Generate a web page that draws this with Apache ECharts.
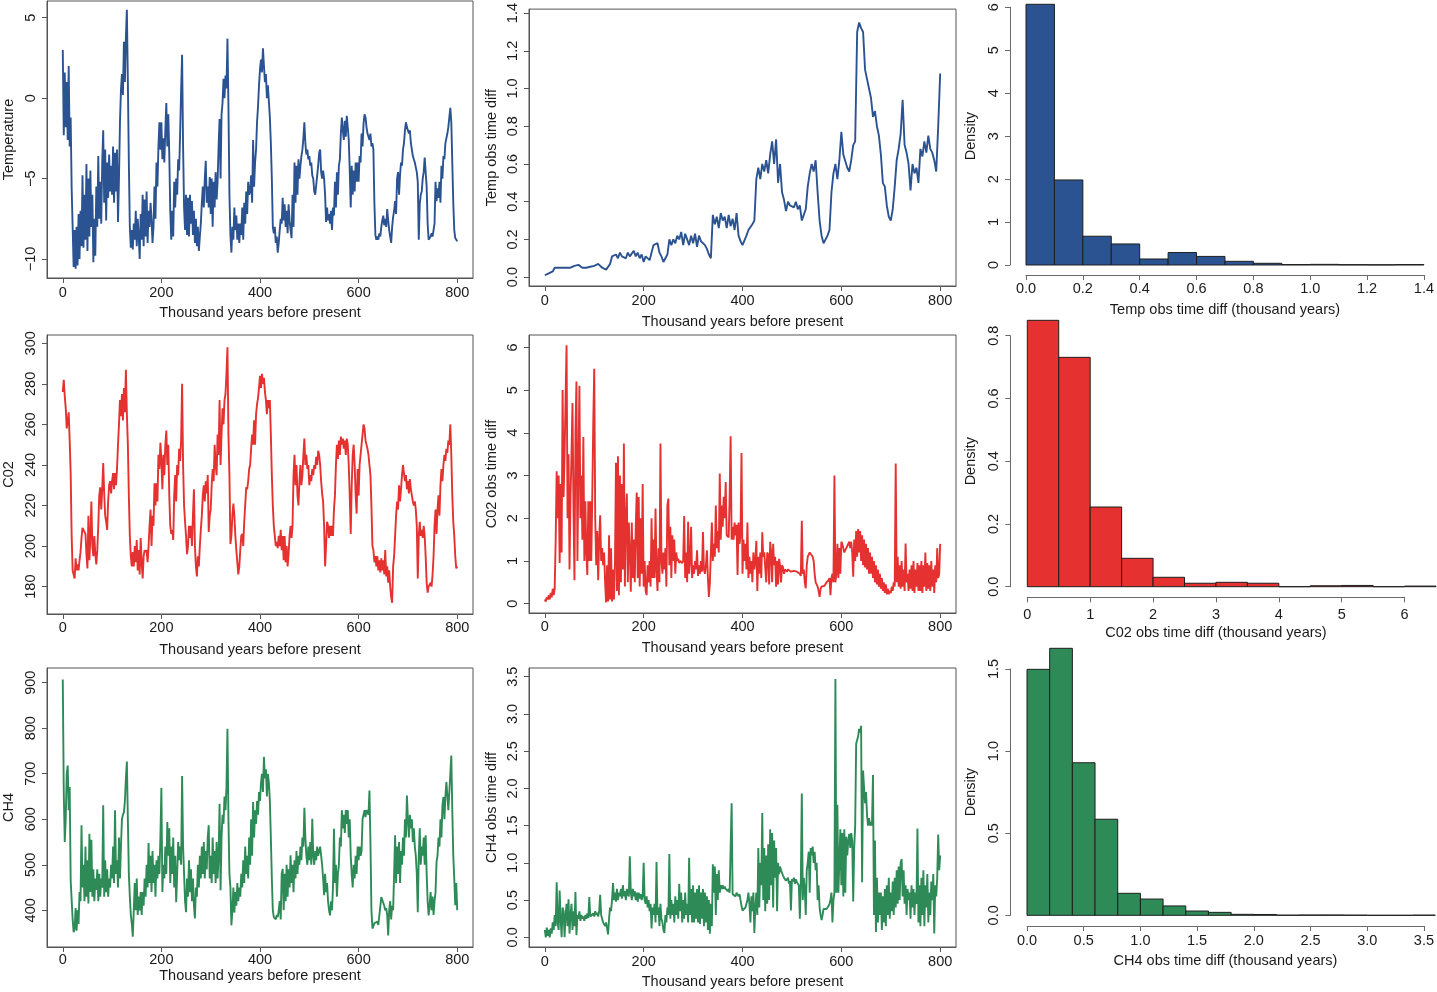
<!DOCTYPE html>
<html><head><meta charset="utf-8">
<script src="https://cdn.jsdelivr.net/npm/echarts@6/dist/echarts.min.js"></script>
<style>html,body{margin:0;padding:0;background:#fff}#c{width:1437px;height:992px}</style>
</head><body><div id="c"></div>
<script>
// ---- data ----
const STEP = 2;      // kyr between samples of the 2-kyr series
const STEP_TD = 4;   // kyr between samples of the temp time-diff series
const xTicks = [0, 200, 400, 600, 800];

const tempVals = [
3.0,-2.3,1.6,-1.8,1.0,-2.6,2.0,-3.0,-1.2,-5.6,
-8.0,-10.5,-8.2,-10.6,-8.0,-10.4,-7.2,-10.0,-7.0,-9.2,
-4.8,-9.3,-6.0,-8.8,-4.1,-9.5,-5.0,-8.6,-4.5,-8.0,
-6.0,-10.2,-7.5,-9.8,-5.5,-8.0,-3.6,-7.5,-5.2,-7.8,
-4.0,-2.0,-6.5,-3.2,-7.6,-4.0,-6.2,-3.5,-5.8,-4.2,
-6.0,-3.0,-6.5,-3.4,-5.8,-3.2,-7.7,-5.0,-1.5,0.5,
1.5,0.2,3.5,1.0,3.8,5.5,1.0,-4.0,-8.0,-9.3,
-8.2,-9.4,-7.8,-8.8,-7.0,-9.2,-7.5,-8.6,-10.0,-7.2,
-8.8,-6.0,-9.2,-6.3,-8.6,-5.8,-9.0,-7.0,-8.0,-6.5,
-7.5,-9.0,-8.0,-5.5,-7.5,-4.0,-5.5,-3.0,-1.5,-3.2,
-1.5,-3.8,-2.5,-4.0,-2.0,-0.3,-3.0,-1.0,-3.5,-7.0,
-8.8,-7.0,-8.6,-5.2,-6.8,-5.0,-6.0,-3.8,-4.5,-2.2,
0.5,2.7,-3.0,-6.8,-8.2,-6.0,-8.5,-6.2,-8.6,-6.0,
-7.8,-6.4,-8.5,-7.0,-9.0,-7.5,-9.2,-8.0,-9.5,-8.6,
-7.8,-6.5,-5.5,-6.8,-5.0,-3.9,-6.5,-5.5,-6.8,-4.9,
-7.2,-5.0,-8.0,-5.2,-6.8,-4.6,-6.3,-5.2,-3.0,-1.3,
-5.0,-1.0,-0.3,1.2,0.0,1.4,0.6,3.7,-0.5,-6.0,
-8.5,-9.6,-8.0,-8.8,-6.8,-8.2,-7.3,-8.8,-7.8,-9.0,
-7.8,-8.5,-6.8,-8.8,-6.5,-7.8,-5.8,-7.2,-5.2,-6.0,
-5.8,-4.8,-6.5,-2.6,-5.5,-4.0,-3.2,-1.5,-0.5,0.8,
1.8,2.4,1.6,3.1,2.0,1.0,1.5,0.0,0.8,-0.2,
-1.2,-2.8,-5.0,-8.0,-8.4,-8.0,-9.0,-8.6,-9.6,-9.0,
-8.2,-7.5,-7.8,-6.2,-7.6,-6.6,-8.0,-7.0,-8.4,-6.6,
-7.6,-8.2,-8.7,-6.0,-8.0,-4.0,-6.5,-4.2,-6.0,-3.8,
-5.0,-4.2,-3.6,-3.2,-2.5,-1.5,-2.8,-3.5,-3.2,-3.8,
-3.6,-4.2,-4.0,-4.8,-5.0,-5.8,-6.0,-5.4,-4.8,-4.2,
-3.4,-3.2,-4.6,-5.0,-4.5,-5.0,-6.0,-7.7,-6.8,-7.6,
-7.2,-7.8,-7.0,-8.2,-6.8,-7.3,-5.2,-6.8,-4.6,-6.0,
-4.2,-3.8,-2.2,-1.2,-2.0,-2.6,-1.4,-2.4,-1.1,-1.8,
-2.6,-4.5,-6.8,-4.2,-6.0,-4.5,-5.8,-4.0,-5.2,-4.0,
-5.2,-3.6,-4.0,-2.2,-3.0,-1.6,-1.0,-1.2,-1.8,-2.2,
-2.4,-2.6,-2.2,-3.0,-2.8,-3.2,-6.5,-8.5,-8.8,-8.6,
-8.8,-8.4,-8.6,-8.0,-7.6,-7.3,-7.9,-7.5,-8.0,-6.9,
-7.6,-8.2,-8.6,-9.0,-8.0,-7.4,-7.0,-6.4,-7.2,-5.0,
-4.6,-6.0,-4.8,-4.0,-4.2,-3.2,-2.8,-2.0,-1.5,-1.8,
-1.8,-2.2,-2.0,-2.8,-3.2,-3.6,-3.6,-4.0,-4.3,-4.6,
-5.2,-8.8,-6.6,-6.0,-5.8,-5.0,-4.6,-3.7,-3.8,-5.5,
-7.8,-8.8,-8.9,-8.6,-8.4,-8.6,-8.2,-7.8,-5.2,-6.4,
-5.6,-6.2,-5.2,-6.5,-4.2,-5.0,-3.6,-3.8,-2.8,-2.5,
-2.2,-1.8,-1.2,-0.6,-1.5,-4.0,-6.5,-8.2,-8.7,-8.8,
-8.9];

const tempDiffVals = [
0.01,0.02,0.02,0.03,0.03,0.05,0.05,0.05,0.05,0.05,
0.05,0.05,0.05,0.05,0.05,0.06,0.06,0.065,0.06,0.05,
0.055,0.05,0.06,0.055,0.06,0.06,0.065,0.07,0.06,0.05,
0.045,0.04,0.035,0.07,0.11,0.1,0.12,0.1,0.13,0.11,
0.12,0.1,0.13,0.11,0.12,0.14,0.11,0.13,0.1,0.12,
0.08,0.11,0.1,0.09,0.13,0.17,0.16,0.18,0.13,0.11,
0.08,0.07,0.12,0.2,0.17,0.2,0.18,0.22,0.2,0.24,
0.17,0.23,0.2,0.17,0.22,0.18,0.23,0.16,0.22,0.19,
0.2,0.17,0.15,0.12,0.1,0.33,0.28,0.32,0.26,0.34,
0.3,0.32,0.26,0.33,0.27,0.31,0.25,0.34,0.22,0.19,
0.17,0.18,0.22,0.25,0.24,0.28,0.3,0.52,0.58,0.52,
0.6,0.56,0.62,0.55,0.65,0.72,0.6,0.73,0.5,0.6,
0.45,0.41,0.35,0.4,0.38,0.39,0.37,0.4,0.36,0.38,
0.3,0.33,0.36,0.48,0.55,0.6,0.56,0.62,0.45,0.3,
0.22,0.18,0.19,0.22,0.25,0.45,0.55,0.6,0.52,0.62,
0.77,0.65,0.66,0.58,0.56,0.62,0.7,0.72,1.3,1.35,
1.32,1.3,1.1,1.05,1.0,0.95,0.85,0.88,0.8,0.75,
0.65,0.5,0.48,0.38,0.32,0.3,0.36,0.48,0.62,0.68,
0.76,0.94,0.7,0.66,0.6,0.46,0.6,0.55,0.58,0.5,
0.68,0.64,0.72,0.66,0.75,0.68,0.66,0.62,0.56,0.8,
1.08];

const co2Vals = [
276,282,274,268,258,262,266,252,236,205,
188,186,184,194,188,191,188,193,197,204,
209,209,209,206,196,189,215,193,205,222,
200,195,205,196,191,198,210,225,229,218,
228,241,226,215,212,208,222,230,232,226,
232,236,228,236,230,238,250,260,272,264,
275,262,278,266,287,265,250,225,205,195,
190,197,190,200,192,203,188,198,186,204,
192,184,195,198,197,198,192,200,210,218,
200,215,210,231,220,231,222,245,238,251,
242,228,245,235,250,257,240,250,225,210,
206,208,203,225,235,222,240,235,248,242,
252,280,240,220,212,205,196,200,210,204,
210,200,215,228,200,190,185,195,190,200,
208,215,225,230,222,232,226,235,207,215,
218,230,238,232,250,240,235,255,245,272,
240,255,268,260,272,275,285,298,255,235,
201,205,215,221,215,205,198,192,186,190,
198,205,206,200,212,220,229,228,232,238,
240,248,255,250,262,250,265,270,273,278,
284,278,285,280,283,276,272,265,272,268,
272,255,235,220,210,205,200,202,199,205,
200,208,198,205,193,205,192,200,190,196,
205,210,204,210,235,245,230,240,225,220,
232,240,230,235,245,253,240,245,238,240,
230,235,232,238,235,240,238,244,240,247,
245,240,232,226,222,210,190,200,212,210,
204,210,205,210,205,218,225,240,250,243,
252,245,254,250,253,248,252,245,253,250,
240,225,206,230,245,250,240,225,216,238,
225,240,245,250,255,260,258,252,252,248,
245,240,235,220,200,198,192,195,190,195,
188,193,187,194,188,193,186,198,185,190,
182,188,180,175,172,190,195,205,215,222,
218,230,222,228,235,240,236,232,235,228,
232,226,233,228,225,222,220,222,218,210,
184,205,212,205,208,204,210,205,195,182,
177,180,180,182,180,186,195,210,218,206,
218,225,215,230,238,232,240,245,242,248,
246,252,250,260,245,225,212,205,195,189,
190];

const co2DiffVals = [
0.1,0.05,0.15,0.1,0.2,0.1,0.25,0.15,0.35,0.2,
0.35,1.5,3.1,2.0,3.0,0.95,2.8,1.2,5.0,2.5,
3.5,4.8,6.05,2.0,3.5,0.8,2.5,3.5,4.7,2.2,
0.55,4.0,5.2,1.0,3.2,5.1,2.0,3.0,1.5,3.9,
1.0,2.4,1.2,0.67,2.4,1.0,2.4,1.0,2.5,4.2,
5.5,2.0,0.9,1.7,0.55,1.5,2.07,1.0,1.3,0.9,
1.2,0.5,0.03,0.9,0.05,1.6,0.1,1.3,0.05,0.8,
0.1,1.0,3.3,0.3,3.45,0.2,3.0,0.5,2.8,0.8,
3.75,0.4,2.0,2.58,0.5,1.9,1.2,0.28,1.9,0.6,
1.5,0.5,1.8,2.6,0.6,2.5,0.4,2.0,0.7,2.8,
0.4,1.0,0.3,0.2,0.9,0.5,1.0,0.4,2.0,0.6,
1.5,0.6,2.23,0.8,0.3,1.3,0.5,3.75,1.0,0.7,
1.2,0.8,1.3,0.4,2.3,2.46,0.9,1.8,0.6,1.6,
1.0,1.5,0.7,1.2,1.0,1.05,0.95,1.0,1.0,0.95,
1.0,2.05,0.6,1.2,0.5,1.92,0.7,1.0,1.8,0.6,
0.9,0.7,1.0,0.8,1.25,0.65,0.9,0.7,1.0,0.75,
1.68,0.8,0.7,0.9,1.25,0.6,0.16,0.5,1.2,1.9,
1.0,1.4,1.1,2.3,1.3,1.7,1.2,3.05,1.5,2.3,
1.8,2.5,2.0,2.85,1.6,1.6,1.55,2.5,3.92,1.5,
1.8,1.5,1.9,1.6,1.85,0.67,1.9,1.4,1.6,3.53,
0.7,1.5,1.0,1.4,0.8,1.9,0.6,1.1,0.7,1.0,
0.5,1.2,0.8,1.0,1.47,0.3,1.1,0.7,1.2,0.6,
1.67,1.1,1.2,1.2,0.5,1.2,1.15,0.45,1.45,1.2,
0.5,1.4,0.9,1.1,0.4,1.0,0.45,1.05,0.9,0.5,
0.9,0.85,0.7,0.8,0.78,0.75,0.8,0.76,0.78,0.75,
0.78,0.75,0.77,0.74,0.76,0.75,0.73,0.74,0.7,0.65,
1.94,0.7,0.8,0.5,0.36,0.9,1.1,1.15,1.2,1.18,
1.2,1.1,1.0,0.7,0.5,0.45,0.4,0.3,0.16,0.35,
0.4,0.38,0.4,0.42,0.45,0.5,0.52,0.55,0.6,0.2,
0.6,0.7,0.5,3.0,0.5,0.7,1.4,0.6,1.3,0.7,
1.45,1.4,1.3,1.2,1.2,1.3,1.35,1.4,1.45,1.3,
1.45,1.2,0.63,1.5,1.0,1.7,1.1,1.75,1.2,1.7,
1.0,1.6,0.9,1.5,0.85,1.4,0.8,1.3,0.7,1.2,
0.7,1.1,0.6,1.0,0.5,0.9,0.45,0.8,0.4,0.7,
0.35,0.6,0.3,0.5,0.25,0.45,0.22,0.35,0.22,0.3,
0.25,0.4,0.3,0.5,0.4,3.28,0.5,1.1,0.4,0.9,
0.35,1.0,0.4,0.8,0.3,1.41,0.5,0.7,0.3,0.8,
0.35,0.9,0.3,1.0,0.25,0.8,0.4,0.95,0.3,0.9,
0.3,1.0,0.25,0.9,0.4,1.2,0.3,0.95,0.35,0.9,
0.3,1.0,0.4,0.8,0.25,0.9,0.5,1.3,0.6,0.7,
1.4];

const ch4Vals = [
907,660,550,600,700,718,620,671,466,470,
380,352,360,405,355,400,370,440,420,587,
450,500,420,540,430,510,415,568,440,555,
430,490,420,470,445,490,420,480,430,470,
450,631,430,510,440,490,430,470,450,500,
470,540,460,620,480,510,450,560,470,540,
600,610,615,640,690,727,600,480,430,390,
370,342,400,460,400,470,390,430,400,440,
390,440,410,470,430,500,450,548,460,520,
440,530,460,500,430,510,470,520,480,560,
669,440,500,470,540,480,594,520,580,460,
540,480,560,450,520,418,480,550,510,540,
500,695,540,480,420,396,470,430,510,440,
490,420,470,410,382,450,430,500,450,520,
470,540,480,550,470,530,490,560,587,470,
520,460,560,480,530,460,550,470,520,634,
444,560,610,590,650,620,670,799,600,480,
450,367,400,450,395,440,410,460,420,450,
430,480,450,510,460,540,480,520,470,560,
500,600,520,638,560,620,590,640,610,660,
640,680,700,660,737,690,710,650,700,680,
640,560,470,400,385,389,380,390,385,400,
420,380,480,491,400,480,420,500,430,490,
450,521,460,500,440,510,470,530,480,520,
500,540,510,560,540,625,560,520,500,540,
510,550,500,601,520,500,530,510,540,520,
530,540,520,500,470,433,480,440,460,420,
400,389,420,400,450,579,460,500,430,480,
500,560,540,620,580,610,570,620,590,620,
560,600,520,480,450,500,470,520,480,540,
510,540,520,530,600,610,620,605,620,615,
610,663,550,400,360,365,372,368,370,375,
368,372,370,429,425,430,410,400,405,390,
345,400,420,380,410,400,480,565,460,540,
480,550,460,530,500,560,520,600,560,652,
600,560,610,580,600,550,580,540,520,480,
396,520,580,500,540,520,560,500,565,480,
420,389,410,440,400,430,390,420,440,506,
520,560,540,600,560,630,649,600,650,682,
680,620,660,700,740,620,520,470,411,460,
400];

const ch4DiffVals = [
0.1,0.0,0.13,0.02,0.1,0.0,0.12,0.05,0.2,0.1,
0.3,0.15,0.74,0.2,0.1,0.63,0.25,0.0,0.4,0.35,
0.0,0.3,0.45,0.15,0.51,0.05,0.3,0.45,0.1,0.35,
0.15,0.61,0.03,0.3,0.25,0.35,0.22,0.3,0.25,0.28,
0.22,0.3,0.25,0.32,0.26,0.54,0.28,0.3,0.26,0.32,
0.28,0.35,0.3,0.33,0.28,0.35,0.57,0.3,0.25,0.2,
0.18,0.15,0.2,0.12,0.04,0.25,0.4,0.35,0.5,0.73,
0.5,0.6,0.48,0.65,0.5,0.6,0.55,0.65,0.52,0.7,
0.55,0.62,0.5,0.65,0.58,0.55,1.09,0.6,0.5,0.65,
0.55,0.62,0.5,0.6,0.48,0.6,0.52,0.58,0.5,0.55,
1.0,0.5,0.45,0.55,0.4,0.5,0.35,0.45,0.12,0.4,
0.3,0.45,0.2,1.01,0.3,0.4,0.15,0.45,0.25,0.2,
0.1,0.06,0.3,0.2,0.4,0.3,1.12,0.25,0.5,0.3,
0.45,0.2,0.55,0.3,0.5,0.25,0.72,0.35,0.6,0.2,
0.5,0.25,0.6,0.3,0.45,0.2,1.07,0.3,0.65,0.2,
0.7,0.2,0.6,0.25,0.65,0.2,0.7,0.18,0.6,0.25,
0.65,0.15,0.6,0.2,0.55,0.1,0.5,0.05,0.45,0.15,
0.98,0.6,0.95,0.3,0.85,0.5,0.9,0.6,0.7,0.65,
0.7,0.65,0.68,0.65,0.66,0.62,0.65,0.6,0.62,1.8,
0.58,0.6,0.58,0.55,0.6,0.62,0.55,0.58,0.5,0.42,
0.36,0.35,0.38,0.4,0.45,0.5,0.6,0.45,0.2,0.55,
0.35,0.6,0.06,0.4,0.6,0.3,1.2,0.4,1.0,0.7,
1.67,0.5,1.2,0.35,1.1,0.45,1.25,0.5,1.45,0.7,
1.4,0.4,1.3,0.8,1.2,0.35,1.0,0.85,0.95,0.9,
0.88,0.83,0.8,0.78,0.76,0.75,0.8,0.72,0.76,0.36,
0.78,0.75,0.8,0.72,0.78,0.74,0.76,0.7,0.25,0.72,
1.93,0.5,0.8,0.65,0.3,0.9,1.0,1.15,0.6,1.2,
1.1,1.22,1.0,1.15,0.9,1.0,0.5,0.7,0.4,0.3,
0.23,0.3,0.38,0.4,0.4,0.38,0.4,0.42,0.45,0.5,
0.6,0.2,0.5,0.6,3.47,0.6,1.78,0.6,1.0,1.45,
0.7,1.4,0.55,1.45,0.6,1.35,1.1,1.3,1.39,1.2,
1.4,1.3,0.48,1.2,1.5,2.6,2.65,2.7,2.8,2.75,
2.84,0.74,2.24,2.0,1.8,1.95,1.64,1.5,1.6,1.5,
1.55,1.5,2.18,0.3,1.3,0.07,0.8,0.2,0.6,0.3,
0.6,0.1,0.55,0.2,0.65,0.15,0.7,0.3,0.8,0.25,
0.6,0.35,0.75,0.3,0.8,0.4,0.9,0.45,0.95,0.5,
1.0,1.05,0.55,0.9,0.45,0.7,0.3,0.65,0.5,0.6,
0.25,0.7,0.4,0.65,0.3,0.6,0.45,1.46,0.2,0.7,
0.15,0.8,0.3,0.9,0.15,0.7,0.4,0.85,0.2,0.6,
0.3,0.75,0.5,0.85,0.05,0.7,0.55,0.8,1.38,0.9,
1.1];

// histogram bins (breaks) and densities
const tempBreaks = [0,0.1,0.2,0.3,0.4,0.5,0.6,0.7,0.8,0.9,1.0,1.1,1.2,1.3,1.4];
const tempDensity = [6.07,1.98,0.67,0.49,0.14,0.29,0.20,0.086,0.04,0.01,0.015,0.008,0.005,0.01];
const co2Breaks = [0,0.5,1,1.5,2,2.5,3,3.5,4,4.5,5,5.5,6,6.5];
const co2Density = [0.849,0.731,0.254,0.0905,0.030,0.011,0.014,0.011,0,0.003,0.004,0,0.002];
const ch4Breaks = [0,0.2,0.4,0.6,0.8,1.0,1.2,1.4,1.6,1.8,2.0,2.2,2.4,2.6,2.8,3.0,3.2,3.4,3.6];
const ch4Density = [1.498,1.626,0.929,0.585,0.134,0.099,0.057,0.026,0.018,0.006,0.005,0.001,0.002,0.002,0.001,0,0,0.001];

// tick values
const tempYTicks = [-10,-5,0,5];
const tdYTicks = [0,0.2,0.4,0.6,0.8,1.0,1.2,1.4];
const co2YTicks = [180,200,220,240,260,280,300];
const cdYTicks = [0,1,2,3,4,5,6];
const ch4YTicks = [400,500,600,700,800,900];
const hdYTicks = [0,0.5,1.0,1.5,2.0,2.5,3.0,3.5];

// ---- chart ----
const FONT = '"Liberation Sans", Arial, Helvetica, sans-serif';
const TXT = '#1a1a1a';
const FRAME = '#555555';
const HAX = '#6a6a6a';
const BLUE = '#2C5391', RED = '#E5312F', GREEN = '#2E8B57';
const LW = 1.9;
const txt = {fontSize: 14.5, color: TXT, fontFamily: FONT};
const minus = v => String(v).replace('-', '\u2212');
const f1 = v => Number(v).toFixed(1);

const grids = [], xAxes = [], yAxes = [], series = [];

function addTimePanel(o) {
  const gi = grids.length;
  grids.push({left: o.left, top: o.top, width: o.width, height: o.height, show: true,
    borderColor: FRAME, borderWidth: 1, backgroundColor: 'transparent'});
  xAxes.push({gridIndex: gi, type: 'value', min: -32, max: 832, position: 'bottom',
    axisLine: {show: true, onZero: false, lineStyle: {color: FRAME, width: 1}}, splitLine: {show: false},
    axisTick: {show: true, length: 5, lineStyle: {color: FRAME}, customValues: xTicks},
    axisLabel: Object.assign({show: true, customValues: xTicks, margin: o.xMargin}, txt),
    name: 'Thousand years before present', nameLocation: 'middle', nameGap: o.xNameGap, nameTextStyle: txt});
  yAxes.push({gridIndex: gi, type: 'value', min: o.yMin, max: o.yMax, position: 'left',
    axisLine: {show: true, onZero: false, lineStyle: {color: FRAME, width: 1}}, splitLine: {show: false},
    axisTick: {show: true, length: 5, lineStyle: {color: FRAME}, customValues: o.yTicks},
    axisLabel: Object.assign({show: true, customValues: o.yTicks, rotate: 90, margin: 9, formatter: o.yFmt}, txt),
    name: o.yName, nameLocation: 'middle', nameGap: o.yNameGap, nameTextStyle: txt});
  series.push({type: 'line', xAxisIndex: gi, yAxisIndex: gi,
    data: o.vals.map((v, k) => [k * o.step, v]),
    showSymbol: false, symbol: 'none', silent: true, animation: false,
    lineStyle: {color: o.color, width: LW}, itemStyle: {color: o.color}});
}

function addHistPanel(o) {
  const gi = grids.length;
  grids.push({left: o.left, top: o.top, width: o.width, height: o.height, show: false});
  xAxes.push({gridIndex: gi, type: 'value', min: o.xMin, max: o.xMax, interval: o.xInterval, offset: o.xOffset, position: 'bottom',
    axisLine: {show: true, onZero: false, lineStyle: {color: HAX}}, splitLine: {show: false},
    axisTick: {show: true, length: 5, lineStyle: {color: HAX}},
    axisLabel: Object.assign({margin: o.xMargin, formatter: o.xFmt}, txt),
    name: o.xName, nameLocation: 'middle', nameGap: o.xNameGap, nameTextStyle: txt});
  yAxes.push({gridIndex: gi, type: 'value', min: 0, max: o.yMax, interval: o.yInterval, offset: o.yOffset, position: 'left',
    axisLine: {show: true, onZero: false, lineStyle: {color: HAX}}, splitLine: {show: false},
    axisTick: {show: true, length: 5, lineStyle: {color: HAX}},
    axisLabel: Object.assign({rotate: 90, margin: 9, formatter: o.yFmt}, txt),
    name: 'Density', nameLocation: 'middle', nameGap: 32, nameTextStyle: txt});
  const data = o.density.map((d, k) => [o.breaks[k], o.breaks[k + 1], d]);
  series.push({type: 'custom', xAxisIndex: gi, yAxisIndex: gi, data: data, clip: false, silent: true, animation: false,
    encode: {x: [0, 1], y: 2},
    renderItem: function (params, api) {
      const p0 = api.coord([api.value(0), 0]);
      const p1 = api.coord([api.value(1), api.value(2)]);
      return {type: 'rect',
        shape: {x: p0[0], y: p1[1], width: p1[0] - p0[0], height: p0[1] - p1[1]},
        style: {fill: o.color, stroke: '#1e1e1e', lineWidth: 1}};
    }});
}

// Row 1
addTimePanel({left: 45, top: 1, width: 428, height: 277, yMin: -11.18, yMax: 6.04, yTicks: tempYTicks, yFmt: minus,
  yName: 'Temperature', yNameGap: 31, xMargin: 7, xNameGap: 27, vals: tempVals, step: STEP, color: BLUE});
addTimePanel({left: 529, top: 7, width: 427, height: 279, yMin: -0.047, yMax: 1.421, yTicks: tdYTicks, yFmt: f1,
  yName: 'Temp obs time diff', yNameGap: 30, xMargin: 7, xNameGap: 28, vals: tempDiffVals, step: STEP_TD, color: BLUE});
addHistPanel({left: 1026, top: 7.3, width: 400, height: 257.7, xMin: 0, xMax: 1.4, xInterval: 0.2, xOffset: 10,
  xFmt: f1, xMargin: 6, xName: 'Temp obs time diff (thousand years)', xNameGap: 27,
  yMax: 6, yInterval: 1, yOffset: 16, yFmt: v => String(v), breaks: tempBreaks, density: tempDensity, color: BLUE});
// Row 2
addTimePanel({left: 45, top: 335, width: 428, height: 279, yMin: 166.5, yMax: 304.1, yTicks: co2YTicks, yFmt: v => String(v),
  yName: 'C02', yNameGap: 31, xMargin: 6, xNameGap: 28, vals: co2Vals, step: STEP, color: RED});
addTimePanel({left: 529, top: 335, width: 427, height: 278, yMin: -0.218, yMax: 6.29, yTicks: cdYTicks, yFmt: v => String(v),
  yName: 'C02 obs time diff', yNameGap: 30, xMargin: 6, xNameGap: 27.5, vals: co2DiffVals, step: STEP, color: RED});
addHistPanel({left: 1027.3, top: 335.7, width: 377.3, height: 251, xMin: 0, xMax: 6, xInterval: 1, xOffset: 10.6,
  xFmt: v => String(v), xMargin: 10.5, xName: 'C02 obs time diff (thousand years)', xNameGap: 28,
  yMax: 0.8, yInterval: 0.2, yOffset: 17, yFmt: f1, breaks: co2Breaks, density: co2Density, color: RED});
// Row 3
addTimePanel({left: 45, top: 668, width: 428, height: 279, yMin: 319.4, yMax: 932.3, yTicks: ch4YTicks, yFmt: v => String(v),
  yName: 'CH4', yNameGap: 31, xMargin: 5, xNameGap: 21, vals: ch4Vals, step: STEP, color: GREEN});
addTimePanel({left: 529, top: 668, width: 427, height: 279, yMin: -0.13, yMax: 3.617, yTicks: hdYTicks, yFmt: f1,
  yName: 'CH4 obs time diff', yNameGap: 30, xMargin: 7, xNameGap: 27.5, vals: ch4DiffVals, step: STEP, color: GREEN});
addHistPanel({left: 1027, top: 669, width: 398, height: 246.3, xMin: 0, xMax: 3.5, xInterval: 0.5, xOffset: 10.7,
  xFmt: f1, xMargin: 7, xName: 'CH4 obs time diff (thousand years)', xNameGap: 27.5,
  yMax: 1.5, yInterval: 0.5, yOffset: 16.7, yFmt: f1, breaks: ch4Breaks, density: ch4Density, color: GREEN});

const chart = echarts.init(document.getElementById('c'), null, {renderer: 'canvas'});
chart.setOption({
  animation: false,
  backgroundColor: '#ffffff',
  textStyle: {fontFamily: FONT},
  grid: grids, xAxis: xAxes, yAxis: yAxes, series: series
});
</script>
</body></html>
